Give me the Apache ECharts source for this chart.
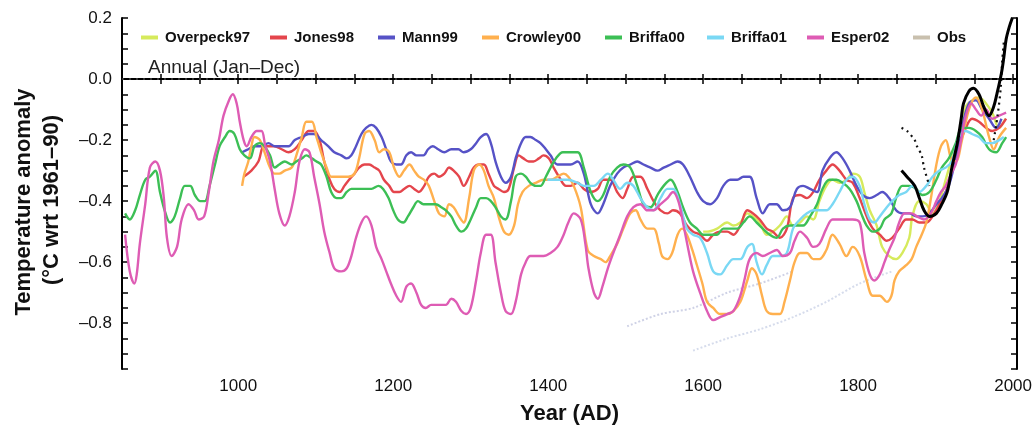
<!DOCTYPE html>
<html>
<head>
<meta charset="utf-8">
<script src="https://cdn.jsdelivr.net/npm/echarts@6/dist/echarts.min.js"></script>
<style>
html,body{margin:0;padding:0;background:#fff;}
#chart{width:1035px;height:430px;}
</style>
</head>
<body>
<div id="chart"></div>
<script>
// ---- data (year, anomaly °C wrt 1961–90) ----
const seriesNames = ['Overpeck97','Jones98','Mann99','Crowley00','Briffa00','Briffa01','Esper02','Obs'];
const xTickLabels = [1000,1200,1400,1600,1800,2000];
const yTickLabels = [0.2,0.0,-0.2,-0.4,-0.6,-0.8];

const overpeck97 = [[1600,-0.50],[1605,-0.50],[1618,-0.49],[1631,-0.47],[1639,-0.48],[1648,-0.47],[1657,-0.44],[1664,-0.45],[1673,-0.47],[1682,-0.51],[1690,-0.50],[1699,-0.48],[1708,-0.45],[1716,-0.48],[1725,-0.47],[1734,-0.45],[1742,-0.46],[1750,-0.40],[1759,-0.35],[1767,-0.33],[1776,-0.34],[1785,-0.33],[1793,-0.31],[1802,-0.32],[1808,-0.37],[1815,-0.43],[1824,-0.48],[1831,-0.55],[1840,-0.58],[1849,-0.59],[1857,-0.57],[1866,-0.52],[1870,-0.45],[1879,-0.40],[1888,-0.41],[1896,-0.44],[1905,-0.40],[1913,-0.33],[1921,-0.26],[1930,-0.19],[1939,-0.09],[1947,-0.07],[1956,-0.06],[1965,-0.08],[1973,-0.11],[1982,-0.16],[1990,-0.13]];

const jones98 = [[1007,-0.32],[1017,-0.30],[1026,-0.27],[1033,-0.22],[1039,-0.22],[1047,-0.22],[1056,-0.23],[1065,-0.24],[1073,-0.23],[1082,-0.20],[1091,-0.17],[1098,-0.17],[1105,-0.20],[1111,-0.27],[1118,-0.33],[1124,-0.36],[1131,-0.37],[1137,-0.35],[1143,-0.33],[1150,-0.31],[1156,-0.29],[1163,-0.28],[1169,-0.28],[1176,-0.29],[1182,-0.30],[1188,-0.33],[1195,-0.35],[1201,-0.37],[1208,-0.37],[1214,-0.36],[1221,-0.35],[1227,-0.36],[1233,-0.37],[1240,-0.35],[1246,-0.32],[1253,-0.31],[1259,-0.32],[1266,-0.31],[1272,-0.29],[1278,-0.30],[1285,-0.32],[1291,-0.35],[1298,-0.32],[1304,-0.29],[1311,-0.28],[1317,-0.28],[1323,-0.31],[1330,-0.35],[1336,-0.36],[1343,-0.37],[1349,-0.36],[1356,-0.29],[1362,-0.25],[1368,-0.26],[1375,-0.27],[1381,-0.27],[1388,-0.26],[1394,-0.25],[1401,-0.26],[1407,-0.29],[1414,-0.32],[1423,-0.35],[1429,-0.35],[1438,-0.34],[1446,-0.36],[1455,-0.37],[1464,-0.36],[1471,-0.33],[1480,-0.33],[1489,-0.37],[1496,-0.39],[1502,-0.36],[1510,-0.32],[1519,-0.32],[1528,-0.36],[1536,-0.40],[1545,-0.43],[1554,-0.44],[1561,-0.43],[1570,-0.44],[1579,-0.48],[1587,-0.50],[1596,-0.51],[1605,-0.53],[1613,-0.51],[1622,-0.50],[1631,-0.50],[1639,-0.51],[1648,-0.48],[1657,-0.43],[1664,-0.44],[1673,-0.46],[1682,-0.49],[1690,-0.50],[1699,-0.52],[1708,-0.49],[1716,-0.39],[1725,-0.38],[1734,-0.39],[1742,-0.37],[1750,-0.33],[1759,-0.30],[1767,-0.28],[1776,-0.30],[1785,-0.33],[1793,-0.34],[1802,-0.39],[1811,-0.45],[1819,-0.49],[1828,-0.51],[1837,-0.53],[1844,-0.52],[1853,-0.49],[1862,-0.46],[1870,-0.46],[1879,-0.47],[1888,-0.47],[1896,-0.45],[1905,-0.41],[1913,-0.37],[1921,-0.30],[1930,-0.22],[1939,-0.16],[1947,-0.13],[1956,-0.14],[1965,-0.16],[1973,-0.17],[1982,-0.16],[1991,-0.13]];

const mann99 = [[1005,-0.24],[1013,-0.23],[1021,-0.22],[1030,-0.22],[1039,-0.21],[1047,-0.22],[1056,-0.22],[1065,-0.22],[1073,-0.20],[1082,-0.19],[1091,-0.18],[1098,-0.18],[1107,-0.20],[1116,-0.22],[1124,-0.24],[1133,-0.25],[1140,-0.26],[1146,-0.25],[1152,-0.22],[1159,-0.18],[1165,-0.16],[1172,-0.15],[1178,-0.16],[1185,-0.19],[1191,-0.23],[1197,-0.27],[1204,-0.28],[1210,-0.28],[1217,-0.25],[1223,-0.24],[1230,-0.25],[1239,-0.25],[1245,-0.23],[1251,-0.22],[1258,-0.23],[1266,-0.24],[1275,-0.23],[1284,-0.23],[1291,-0.24],[1300,-0.23],[1307,-0.21],[1313,-0.19],[1320,-0.18],[1326,-0.21],[1332,-0.27],[1339,-0.32],[1345,-0.34],[1352,-0.32],[1358,-0.26],[1365,-0.21],[1371,-0.19],[1377,-0.19],[1384,-0.20],[1390,-0.21],[1397,-0.23],[1403,-0.25],[1412,-0.28],[1420,-0.28],[1429,-0.28],[1438,-0.27],[1446,-0.31],[1455,-0.41],[1464,-0.44],[1471,-0.41],[1480,-0.35],[1489,-0.31],[1497,-0.29],[1506,-0.28],[1515,-0.27],[1523,-0.28],[1532,-0.29],[1541,-0.30],[1549,-0.29],[1558,-0.28],[1567,-0.27],[1574,-0.28],[1583,-0.32],[1592,-0.37],[1600,-0.40],[1609,-0.41],[1618,-0.39],[1626,-0.35],[1635,-0.33],[1644,-0.33],[1652,-0.32],[1660,-0.32],[1669,-0.39],[1677,-0.44],[1686,-0.41],[1695,-0.41],[1703,-0.43],[1712,-0.42],[1721,-0.36],[1729,-0.35],[1738,-0.36],[1747,-0.37],[1754,-0.30],[1763,-0.26],[1772,-0.24],[1780,-0.26],[1789,-0.30],[1798,-0.35],[1806,-0.38],[1815,-0.39],[1824,-0.38],[1831,-0.37],[1840,-0.39],[1849,-0.43],[1857,-0.44],[1866,-0.44],[1875,-0.45],[1883,-0.45],[1892,-0.44],[1901,-0.41],[1908,-0.39],[1917,-0.35],[1926,-0.26],[1934,-0.16],[1943,-0.08],[1952,-0.07],[1960,-0.10],[1969,-0.13],[1978,-0.16],[1985,-0.13]];

const crowley00 = [[1005,-0.35],[1008,-0.31],[1013,-0.27],[1017,-0.22],[1021,-0.19],[1028,-0.20],[1034,-0.24],[1041,-0.29],[1047,-0.31],[1053,-0.31],[1060,-0.30],[1069,-0.29],[1075,-0.25],[1082,-0.19],[1088,-0.14],[1095,-0.14],[1101,-0.19],[1107,-0.24],[1114,-0.29],[1120,-0.32],[1127,-0.32],[1133,-0.32],[1142,-0.32],[1150,-0.31],[1156,-0.26],[1163,-0.18],[1169,-0.17],[1176,-0.20],[1182,-0.24],[1188,-0.23],[1195,-0.24],[1201,-0.29],[1208,-0.32],[1214,-0.30],[1221,-0.28],[1227,-0.30],[1233,-0.32],[1240,-0.33],[1246,-0.35],[1253,-0.40],[1259,-0.44],[1266,-0.45],[1272,-0.41],[1278,-0.42],[1285,-0.45],[1291,-0.47],[1298,-0.39],[1304,-0.30],[1311,-0.28],[1317,-0.30],[1323,-0.35],[1330,-0.39],[1336,-0.45],[1343,-0.50],[1349,-0.51],[1356,-0.48],[1361,-0.41],[1367,-0.37],[1375,-0.35],[1384,-0.34],[1394,-0.33],[1403,-0.33],[1412,-0.32],[1420,-0.31],[1426,-0.32],[1433,-0.35],[1442,-0.42],[1451,-0.56],[1459,-0.58],[1468,-0.59],[1474,-0.60],[1480,-0.58],[1489,-0.54],[1497,-0.49],[1506,-0.44],[1513,-0.43],[1519,-0.46],[1528,-0.49],[1536,-0.49],[1543,-0.54],[1547,-0.58],[1554,-0.59],[1560,-0.57],[1567,-0.51],[1573,-0.49],[1579,-0.51],[1586,-0.56],[1592,-0.61],[1599,-0.67],[1605,-0.73],[1613,-0.75],[1622,-0.77],[1631,-0.77],[1639,-0.76],[1648,-0.73],[1657,-0.66],[1663,-0.62],[1669,-0.64],[1676,-0.71],[1682,-0.76],[1690,-0.77],[1699,-0.77],[1705,-0.73],[1712,-0.66],[1718,-0.60],[1725,-0.57],[1734,-0.57],[1742,-0.59],[1750,-0.59],[1759,-0.56],[1767,-0.51],[1776,-0.54],[1785,-0.58],[1793,-0.55],[1802,-0.58],[1811,-0.66],[1819,-0.71],[1828,-0.71],[1837,-0.73],[1843,-0.71],[1847,-0.66],[1853,-0.63],[1862,-0.61],[1869,-0.59],[1875,-0.55],[1882,-0.51],[1888,-0.47],[1894,-0.39],[1901,-0.28],[1907,-0.22],[1913,-0.20],[1920,-0.26],[1926,-0.27],[1934,-0.20],[1943,-0.10],[1952,-0.06],[1960,-0.10],[1969,-0.19],[1975,-0.23],[1982,-0.19],[1991,-0.16]];

const briffa00 = [[854,-0.44],[860,-0.46],[867,-0.43],[873,-0.38],[880,-0.33],[886,-0.32],[893,-0.30],[899,-0.37],[905,-0.43],[912,-0.47],[918,-0.45],[925,-0.39],[931,-0.35],[938,-0.35],[944,-0.38],[951,-0.40],[957,-0.40],[963,-0.35],[970,-0.28],[976,-0.22],[983,-0.19],[989,-0.17],[995,-0.18],[1002,-0.23],[1008,-0.25],[1015,-0.26],[1021,-0.22],[1028,-0.21],[1034,-0.22],[1041,-0.25],[1047,-0.29],[1053,-0.28],[1060,-0.27],[1069,-0.28],[1075,-0.27],[1082,-0.26],[1088,-0.25],[1095,-0.26],[1101,-0.27],[1107,-0.28],[1114,-0.32],[1120,-0.37],[1127,-0.39],[1133,-0.39],[1140,-0.37],[1146,-0.36],[1155,-0.36],[1163,-0.36],[1172,-0.36],[1181,-0.35],[1187,-0.36],[1194,-0.39],[1200,-0.43],[1206,-0.46],[1213,-0.47],[1219,-0.45],[1226,-0.42],[1232,-0.40],[1239,-0.41],[1246,-0.41],[1255,-0.41],[1262,-0.42],[1268,-0.43],[1275,-0.45],[1281,-0.48],[1288,-0.50],[1294,-0.49],[1300,-0.46],[1307,-0.42],[1313,-0.39],[1320,-0.39],[1326,-0.40],[1332,-0.42],[1339,-0.45],[1345,-0.46],[1352,-0.40],[1358,-0.32],[1365,-0.31],[1371,-0.32],[1377,-0.34],[1384,-0.35],[1390,-0.35],[1397,-0.32],[1403,-0.29],[1410,-0.26],[1419,-0.24],[1426,-0.24],[1438,-0.24],[1446,-0.29],[1455,-0.37],[1464,-0.40],[1471,-0.38],[1480,-0.32],[1489,-0.29],[1497,-0.28],[1506,-0.29],[1515,-0.35],[1523,-0.41],[1532,-0.42],[1541,-0.38],[1549,-0.35],[1558,-0.33],[1567,-0.37],[1574,-0.42],[1583,-0.47],[1592,-0.49],[1600,-0.51],[1609,-0.51],[1618,-0.51],[1626,-0.49],[1635,-0.49],[1644,-0.49],[1652,-0.47],[1660,-0.45],[1669,-0.47],[1677,-0.49],[1686,-0.51],[1695,-0.52],[1703,-0.49],[1712,-0.48],[1721,-0.48],[1729,-0.48],[1738,-0.45],[1747,-0.41],[1754,-0.36],[1763,-0.33],[1772,-0.33],[1780,-0.34],[1789,-0.36],[1798,-0.40],[1804,-0.44],[1811,-0.48],[1819,-0.50],[1828,-0.49],[1834,-0.46],[1843,-0.44],[1849,-0.39],[1857,-0.35],[1866,-0.35],[1875,-0.36],[1883,-0.38],[1892,-0.37],[1901,-0.33],[1908,-0.29],[1917,-0.26],[1926,-0.21],[1934,-0.16],[1943,-0.16],[1952,-0.17],[1960,-0.19],[1969,-0.23],[1978,-0.24],[1986,-0.21],[1991,-0.19]];

const briffa01 = [[1399,-0.33],[1407,-0.33],[1416,-0.33],[1425,-0.33],[1438,-0.34],[1446,-0.35],[1459,-0.35],[1468,-0.33],[1477,-0.31],[1484,-0.33],[1493,-0.36],[1502,-0.34],[1510,-0.35],[1519,-0.39],[1528,-0.42],[1536,-0.43],[1545,-0.39],[1554,-0.36],[1561,-0.36],[1570,-0.41],[1579,-0.49],[1587,-0.51],[1596,-0.52],[1605,-0.57],[1613,-0.63],[1622,-0.64],[1631,-0.61],[1639,-0.59],[1648,-0.59],[1657,-0.55],[1663,-0.54],[1669,-0.60],[1676,-0.64],[1682,-0.61],[1690,-0.58],[1699,-0.58],[1708,-0.57],[1716,-0.49],[1725,-0.46],[1734,-0.44],[1742,-0.43],[1750,-0.43],[1759,-0.43],[1767,-0.41],[1776,-0.37],[1785,-0.33],[1793,-0.32],[1802,-0.35],[1808,-0.41],[1815,-0.46],[1821,-0.47],[1828,-0.45],[1837,-0.42],[1844,-0.40],[1853,-0.38],[1862,-0.37],[1870,-0.35],[1879,-0.37],[1888,-0.35],[1896,-0.32],[1905,-0.30],[1913,-0.29],[1921,-0.27],[1930,-0.19],[1939,-0.17],[1947,-0.18],[1956,-0.19],[1965,-0.21],[1973,-0.21],[1982,-0.20],[1988,-0.19]];

const esper02 = [[854,-0.51],[860,-0.63],[866,-0.67],[869,-0.64],[873,-0.54],[880,-0.41],[886,-0.29],[893,-0.27],[899,-0.30],[904,-0.39],[908,-0.52],[914,-0.58],[921,-0.55],[927,-0.46],[936,-0.41],[943,-0.43],[949,-0.46],[956,-0.45],[962,-0.37],[968,-0.27],[975,-0.20],[981,-0.12],[988,-0.07],[993,-0.05],[998,-0.08],[1002,-0.14],[1007,-0.20],[1011,-0.22],[1017,-0.19],[1024,-0.17],[1030,-0.17],[1035,-0.22],[1041,-0.27],[1047,-0.36],[1053,-0.44],[1060,-0.48],[1066,-0.45],[1073,-0.37],[1079,-0.27],[1086,-0.23],[1092,-0.24],[1098,-0.32],[1105,-0.41],[1111,-0.50],[1118,-0.57],[1124,-0.62],[1133,-0.63],[1140,-0.62],[1146,-0.58],[1152,-0.52],[1159,-0.47],[1165,-0.45],[1172,-0.48],[1178,-0.55],[1185,-0.59],[1191,-0.63],[1197,-0.67],[1204,-0.71],[1210,-0.73],[1217,-0.68],[1223,-0.67],[1230,-0.70],[1236,-0.74],[1242,-0.75],[1249,-0.74],[1255,-0.74],[1262,-0.74],[1268,-0.74],[1275,-0.72],[1281,-0.73],[1288,-0.76],[1294,-0.77],[1300,-0.75],[1307,-0.66],[1313,-0.57],[1320,-0.51],[1326,-0.51],[1332,-0.60],[1339,-0.70],[1345,-0.76],[1352,-0.77],[1358,-0.73],[1365,-0.64],[1371,-0.60],[1377,-0.58],[1386,-0.58],[1394,-0.58],[1403,-0.57],[1412,-0.55],[1420,-0.51],[1426,-0.47],[1433,-0.44],[1442,-0.46],[1448,-0.54],[1452,-0.62],[1459,-0.70],[1464,-0.72],[1470,-0.68],[1477,-0.62],[1484,-0.57],[1493,-0.51],[1502,-0.45],[1510,-0.42],[1519,-0.41],[1528,-0.43],[1536,-0.43],[1545,-0.41],[1554,-0.39],[1561,-0.37],[1568,-0.40],[1574,-0.47],[1581,-0.56],[1587,-0.63],[1596,-0.70],[1605,-0.76],[1613,-0.79],[1622,-0.78],[1631,-0.77],[1639,-0.76],[1648,-0.71],[1654,-0.65],[1660,-0.59],[1669,-0.57],[1677,-0.58],[1686,-0.57],[1695,-0.56],[1703,-0.58],[1712,-0.57],[1718,-0.53],[1725,-0.50],[1734,-0.52],[1742,-0.55],[1750,-0.54],[1759,-0.49],[1767,-0.46],[1776,-0.46],[1785,-0.46],[1793,-0.46],[1802,-0.47],[1808,-0.57],[1815,-0.64],[1821,-0.66],[1828,-0.64],[1834,-0.60],[1840,-0.56],[1847,-0.52],[1853,-0.47],[1860,-0.44],[1869,-0.44],[1876,-0.45],[1885,-0.46],[1894,-0.44],[1901,-0.40],[1907,-0.37],[1913,-0.35],[1920,-0.31],[1926,-0.28],[1933,-0.20],[1939,-0.12],[1946,-0.08],[1952,-0.10],[1959,-0.12],[1965,-0.10],[1973,-0.13],[1982,-0.12],[1991,-0.11]];

// faint dotted series (legend "Obs") and its lower companion
const obs = [[1502,-0.81],[1545,-0.77],[1587,-0.75],[1631,-0.70],[1673,-0.67],[1716,-0.63]];
const obsLower = [[1587,-0.89],[1631,-0.85],[1673,-0.82],[1716,-0.78],[1759,-0.73],[1802,-0.67],[1844,-0.63]];

// black instrumental curve and dotted black segments
const instrumental = [[1856,-0.30],[1863,-0.32],[1873,-0.35],[1879,-0.39],[1885,-0.43],[1892,-0.45],[1901,-0.44],[1908,-0.41],[1915,-0.37],[1921,-0.29],[1928,-0.21],[1933,-0.13],[1936,-0.08],[1943,-0.04],[1949,-0.03],[1956,-0.05],[1962,-0.09],[1969,-0.12],[1975,-0.09],[1979,-0.05],[1985,0.02],[1988,0.07],[1991,0.13],[1995,0.17],[1999,0.20]];
const instrDottedEarly = [[1856,-0.16],[1863,-0.17],[1873,-0.20],[1876,-0.22],[1882,-0.25],[1885,-0.29],[1892,-0.35]];
const instrDottedLate = [[1975,-0.20],[1980,-0.12],[1984,-0.03],[1986,0.06],[1988,0.12]];

const colors = {
  Overpeck97:'#d6ea5c', Jones98:'#e4454c', Mann99:'#5652c6', Crowley00:'#ffb04e',
  Briffa00:'#3cbf55', Briffa01:'#7ad8f4', Esper02:'#de5cb4', Obs:'#c9c0ae'
};
const legendLeft = [136,265,373,477,600,702,802,908];

const chart = echarts.init(document.getElementById('chart'));

function colored(name, data){
  return {name, type:'line', data, showSymbol:false, smooth:0.35,
    lineStyle:{color:colors[name], width:2.4}, itemStyle:{color:colors[name]}, z:3};
}

const fmtY = v => {
  if (Math.abs(v*5 - Math.round(v*5)) > 1e-6) return '';
  const r = Math.round(v*10)/10;
  if (Math.abs(r) < 1e-9) return '0.0';
  return (r < 0 ? '\u2013' : '') + Math.abs(r).toFixed(1);
};
const fmtX = v => (v % 200 === 0 && xTickLabels.indexOf(v) >= 0) ? String(v) : '';

const axisLineStyle = {color:'#000', width:2};

const option = {
  animation:false,
  backgroundColor:'#fff',
  grid:{left:122, right:18, top:18, bottom:54},
  legend: seriesNames.map((n,i)=>({
    data:[n], left:legendLeft[i], top:25, icon:'rect', itemWidth:17, itemHeight:4,
    itemGap:0, selectedMode:false,
    textStyle:{fontSize:15, fontWeight:'bold', color:'#111', fontFamily:'Liberation Sans, Arial, sans-serif', padding:[0,0,0,2]}
  })),
  xAxis:[
    {type:'value', min:850, max:2005, interval:50, position:'bottom',
      axisLine:{show:true, lineStyle:axisLineStyle},
      axisTick:{show:true, inside:true, length:5, lineStyle:{color:'#000', width:1.5}},
      axisLabel:{formatter:fmtX, fontSize:17, color:'#111', margin:9, fontFamily:'Liberation Sans, Arial, sans-serif'},
      splitLine:{show:false},
      name:'Year (AD)', nameLocation:'middle', nameGap:34,
      nameTextStyle:{fontSize:22, fontWeight:'bold', color:'#111', fontFamily:'Liberation Sans, Arial, sans-serif'}
    },
    {type:'value', min:850, max:2005, interval:50, position:'top',
      axisLine:{show:true, lineStyle:axisLineStyle},
      axisTick:{show:true, inside:true, length:5, lineStyle:{color:'#000', width:1.5}},
      axisLabel:{show:false}, splitLine:{show:false}}
  ],
  yAxis:[
    {type:'value', min:-0.95, max:0.2, interval:0.05, position:'left',
      axisLine:{show:true, lineStyle:axisLineStyle},
      axisTick:{show:true, inside:true, length:6, lineStyle:{color:'#000', width:1.5}},
      axisLabel:{formatter:fmtY, fontSize:17, color:'#111', margin:10, fontFamily:'Liberation Sans, Arial, sans-serif'},
      splitLine:{show:false}},
    {type:'value', min:-0.95, max:0.2, interval:0.05, position:'right',
      axisLine:{show:true, lineStyle:axisLineStyle},
      axisTick:{show:true, inside:true, length:6, lineStyle:{color:'#000', width:1.5}},
      axisLabel:{show:false}, splitLine:{show:false}}
  ],
  graphic:[
    {type:'text', left:148, top:58, style:{text:'Annual (Jan\u2013Dec)', fontSize:19, fill:'#222', fontFamily:'Liberation Sans, Arial, sans-serif'}},
    {type:'text', x:24, y:202, rotation:Math.PI/2, style:{text:'Temperature anomaly', fontSize:22, fontWeight:'bold', fill:'#111', align:'center', verticalAlign:'middle', fontFamily:'Liberation Sans, Arial, sans-serif'}},
    {type:'text', x:52, y:200, rotation:Math.PI/2, style:{text:'(\u00B0C wrt 1961\u201390)', fontSize:22, fontWeight:'bold', fill:'#111', align:'center', verticalAlign:'middle', fontFamily:'Liberation Sans, Arial, sans-serif'}}
  ],
  series:[
    {name:'Obs', type:'line', data:obs, showSymbol:false, smooth:0.3,
      lineStyle:{color:'#cfd2e6', width:2, type:'dotted'}, itemStyle:{color:colors.Obs}, z:2,
      markLine:{silent:true, symbol:'none', label:{show:false},
        lineStyle:{color:'#333', width:2, type:[2,5]}, data:[{yAxis:0}]}},
    {name:'obsLower', type:'line', data:obsLower, showSymbol:false, smooth:0.3,
      lineStyle:{color:'#d6dcec', width:2, type:'dotted'}, z:2},
    colored('Overpeck97', overpeck97),
    colored('Jones98', jones98),
    colored('Mann99', mann99),
    colored('Crowley00', crowley00),
    colored('Briffa00', briffa00),
    colored('Briffa01', briffa01),
    colored('Esper02', esper02),
    {name:'instrDottedEarly', type:'line', data:instrDottedEarly, showSymbol:false, smooth:0.3,
      lineStyle:{color:'#111', width:2.2, type:[2,4]}, z:5},
    {name:'instrDottedLate', type:'line', data:instrDottedLate, showSymbol:false, smooth:0.3,
      lineStyle:{color:'#111', width:2.2, type:[2,4]}, z:5},
    {name:'instrumental', type:'line', data:instrumental, showSymbol:false, smooth:0.35,
      lineStyle:{color:'#000', width:3}, z:6}
  ]
};
chart.setOption(option);
</script>
</body>
</html>
